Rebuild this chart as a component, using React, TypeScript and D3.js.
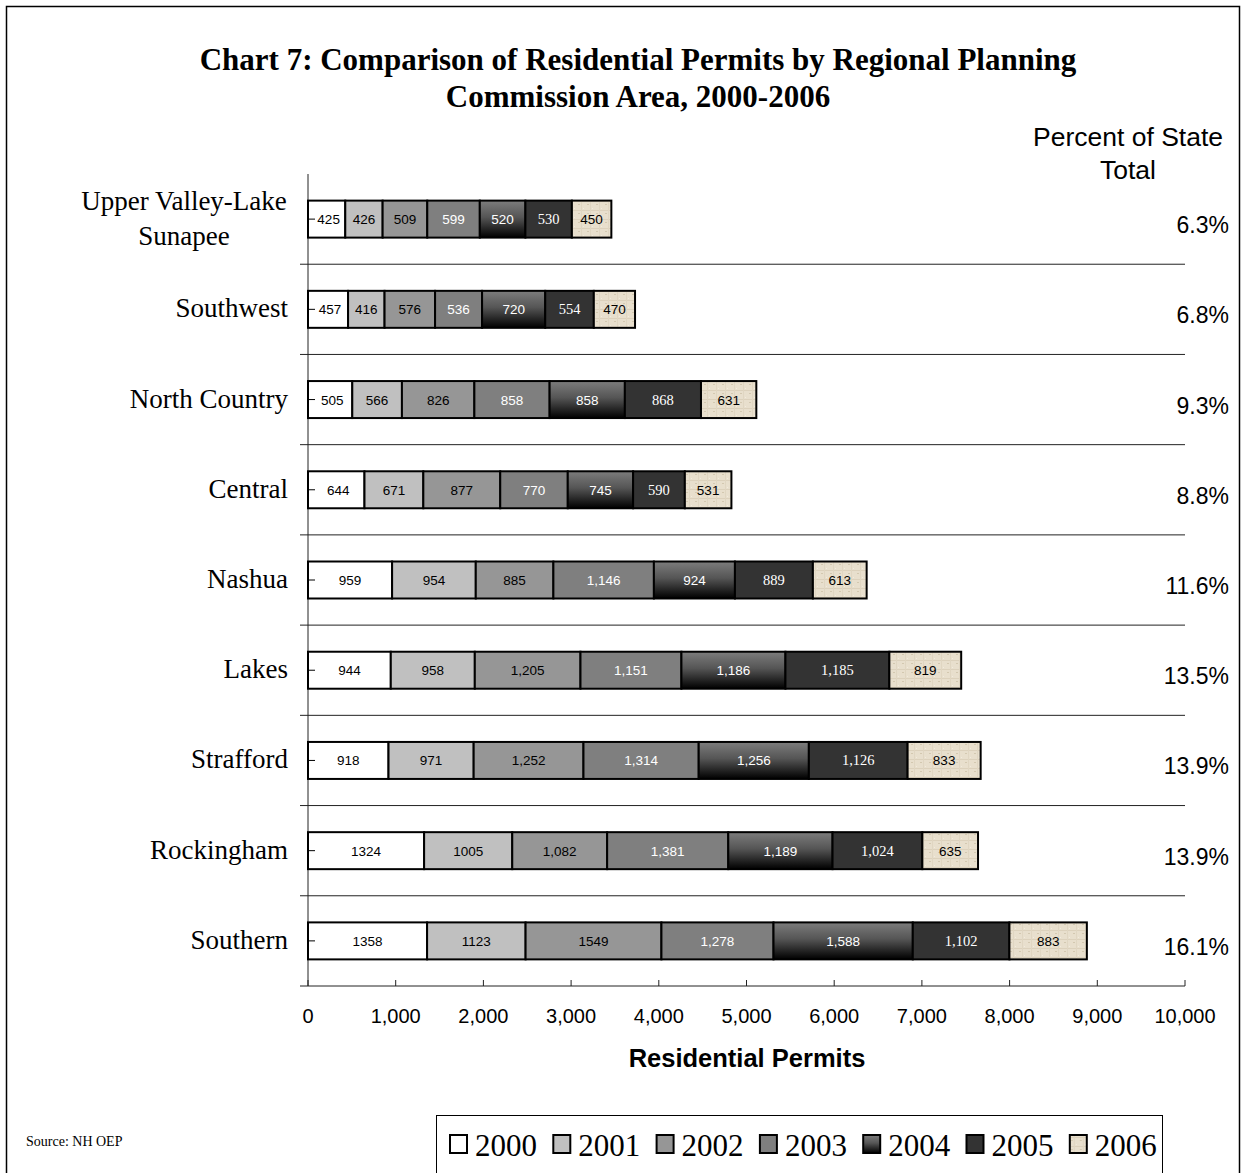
import React from "react";
import * as d3 from "d3";

const regions = [
  "Upper Valley-Lake Sunapee",
  "Southwest",
  "North Country",
  "Central",
  "Nashua",
  "Lakes",
  "Strafford",
  "Rockingham",
  "Southern",
];
const regionLines = [
  ["Upper Valley-Lake", "Sunapee"],
  ["Southwest"],
  ["North Country"],
  ["Central"],
  ["Nashua"],
  ["Lakes"],
  ["Strafford"],
  ["Rockingham"],
  ["Southern"],
];
const years = ["2000", "2001", "2002", "2003", "2004", "2005", "2006"];

const v2000 = [425, 457, 505, 644, 959, 944, 918, 1324, 1358];
const v2001 = [426, 416, 566, 671, 954, 958, 971, 1005, 1123];
const v2002 = [509, 576, 826, 877, 885, 1205, 1252, 1082, 1549];
const v2003 = [599, 536, 858, 770, 1146, 1151, 1314, 1381, 1278];
const v2004 = [520, 720, 858, 745, 924, 1186, 1256, 1189, 1588];
const v2005 = [530, 554, 868, 590, 889, 1185, 1126, 1024, 1102];
const v2006 = [450, 470, 631, 531, 613, 819, 833, 635, 883];
const seriesValues = [v2000, v2001, v2002, v2003, v2004, v2005, v2006];

// values shown without thousands separator in the source chart
const noCommaLabels = [
  [true, true, true, true, true, true, true, true, true],
  [true, true, true, true, true, true, true, true, true],
  [false, false, false, false, false, false, false, false, true],
  [false, false, false, false, false, false, false, false, false],
  [false, false, false, false, false, false, false, false, false],
  [false, false, false, false, false, false, false, false, false],
  [false, false, false, false, false, false, false, false, false],
];

const percentOfState = ["6.3%", "6.8%", "9.3%", "8.8%", "11.6%", "13.5%", "13.9%", "13.9%", "16.1%"];
const xTicks = [0, 1000, 2000, 3000, 4000, 5000, 6000, 7000, 8000, 9000, 10000];

const SANS = "Arial, 'Liberation Sans', sans-serif";
const SERIF = "'Times New Roman', 'Liberation Serif', serif";

const fills = ["#ffffff", "#c0c0c0", "#969696", "#7f7f7f", "url(#grad2004)", "#333333", "url(#tex2006)"];
const labelColors = ["#000", "#000", "#000", "#fff", "#fff", "#fff", "#000"];
const labelFonts = [SANS, SANS, SANS, SANS, SANS, SERIF, SANS];

const W = 1241;
const H = 1173;

export default function App() {
  const x = d3.scaleLinear().domain([0, 10000]).range([308, 1185]);
  const y = d3.scaleBand().domain(regions).range([174, 986]).paddingInner(0.59).paddingOuter(0.295);
  const band = d3.scaleBand().domain(regions).range([174, 986]);
  const fmtComma = d3.format(",");
  const fmtPlain = d3.format("d");

  const stacked = regions.map((r, i) => {
    let acc = 0;
    return seriesValues.map((s, k) => {
      const x0 = acc;
      acc += s[i];
      return { k, x0, x1: acc, v: s[i] };
    });
  });

  return (
    <svg width={W} height={H} style={{ position: "absolute", left: 0, top: 0, background: "#fff" }}>
      <defs>
        <linearGradient id="grad2004" x1="0" y1="0" x2="0" y2="1">
          <stop offset="0" stopColor="#7d7d7d" />
          <stop offset="0.45" stopColor="#555" />
          <stop offset="1" stopColor="#000" />
        </linearGradient>
        <pattern id="tex2006" width="9" height="9" patternUnits="userSpaceOnUse">
          <rect width="9" height="9" fill="#e8dfcd" />
          <rect x="0" y="3" width="9" height="1" fill="#dcd1bc" />
          <rect x="5" y="0" width="1" height="9" fill="#e0d6c2" />
          <rect x="2" y="6" width="2" height="1" fill="#d3c8b0" />
          <rect x="7" y="1" width="1" height="1" fill="#f2ebdd" />
        </pattern>
      </defs>
      <rect x={0} y={0} width={W} height={H} fill="#fff" />
      <rect x={6.5} y={6.5} width={1233} height={1200} fill="none" stroke="#000" strokeWidth={1.5} />

      <text x={638} y={70} textAnchor="middle" fontFamily={SERIF} fontWeight="bold" fontSize={31}>
        Chart 7: Comparison of Residential Permits by Regional Planning
      </text>
      <text x={638} y={107} textAnchor="middle" fontFamily={SERIF} fontWeight="bold" fontSize={31}>
        Commission Area, 2000-2006
      </text>

      <text x={1128} y={146} textAnchor="middle" fontFamily={SANS} fontSize={26.5}>Percent of State</text>
      <text x={1128} y={179} textAnchor="middle" fontFamily={SANS} fontSize={26.5}>Total</text>

      {/* category dividers */}
      {regions.map((r, i) => (
        <line key={"g" + i} x1={300} x2={x(10000)} y1={(band(r) as number) + band.bandwidth()} y2={(band(r) as number) + band.bandwidth()} stroke="#222" strokeWidth={1} />
      ))}
      {/* y axis */}
      <line x1={x(0)} x2={x(0)} y1={174} y2={986} stroke="#222" strokeWidth={1} />
      {/* x axis ticks */}
      {xTicks.map((t) => (
        <g key={"t" + t}>
          <line x1={x(t)} x2={x(t)} y1={980} y2={986} stroke="#222" />
          <text x={x(t)} y={1023} textAnchor="middle" fontFamily={SANS} fontSize={20}>{fmtComma(t)}</text>
        </g>
      ))}
      <text x={747} y={1067} textAnchor="middle" fontFamily={SANS} fontWeight="bold" fontSize={25.5}>Residential Permits</text>

      {/* bars */}
      {regions.map((r, i) => {
        const by = y(r) as number;
        const bh = y.bandwidth();
        const cy = (band(r) as number) + band.bandwidth() / 2;
        return (
          <g key={"b" + i}>
            {stacked[i].map((seg) => (
              <rect key={seg.k} x={x(seg.x0)} y={by} width={x(seg.x1) - x(seg.x0)} height={bh} fill={fills[seg.k]} stroke="#000" strokeWidth={2} />
            ))}
            <line x1={x(0)} x2={x(0) + 7} y1={cy} y2={cy} stroke="#000" strokeWidth={1} />
            {stacked[i].map((seg) => (
              <text key={"l" + seg.k} x={(x(seg.x0) + x(seg.x1)) / 2 + (seg.k === 0 && seg.v < 700 ? 2 : 0)} y={cy + 5} textAnchor="middle" fontFamily={labelFonts[seg.k]} fontSize={seg.k === 5 ? 14.5 : 13.5} fill={labelColors[seg.k]}>
                {noCommaLabels[seg.k][i] ? fmtPlain(seg.v) : fmtComma(seg.v)}
              </text>
            ))}
            {regionLines[i].map((ln, j) => {
              const n = regionLines[i].length;
              const ly = cy + 8 + (j - (n - 1) / 2) * 35;
              return n === 1 ? (
                <text key={"c" + j} x={288} y={ly} textAnchor="end" fontFamily={SERIF} fontSize={27}>{ln}</text>
              ) : (
                <text key={"c" + j} x={184} y={ly} textAnchor="middle" fontFamily={SERIF} fontSize={27}>{ln}</text>
              );
            })}
            <text x={1229} y={cy + 14} textAnchor="end" fontFamily={SANS} fontSize={23}>{percentOfState[i]}</text>
          </g>
        );
      })}

      <text x={26} y={1146} fontFamily={SERIF} fontSize={14}>Source: NH OEP</text>

      {/* legend */}
      <rect x={436.5} y={1115.5} width={726} height={80} fill="#fff" stroke="#000" strokeWidth={1} />
      {years.map((yr, k) => (
        <g key={"lg" + k} transform={`translate(${449 + k * 103.3},0)`}>
          <rect x={1} y={1135} width={17} height={18} fill={fills[k]} stroke="#000" strokeWidth={2} />
          <text x={26} y={1156} fontFamily={SERIF} fontSize={31}>{yr}</text>
        </g>
      ))}
    </svg>
  );
}
